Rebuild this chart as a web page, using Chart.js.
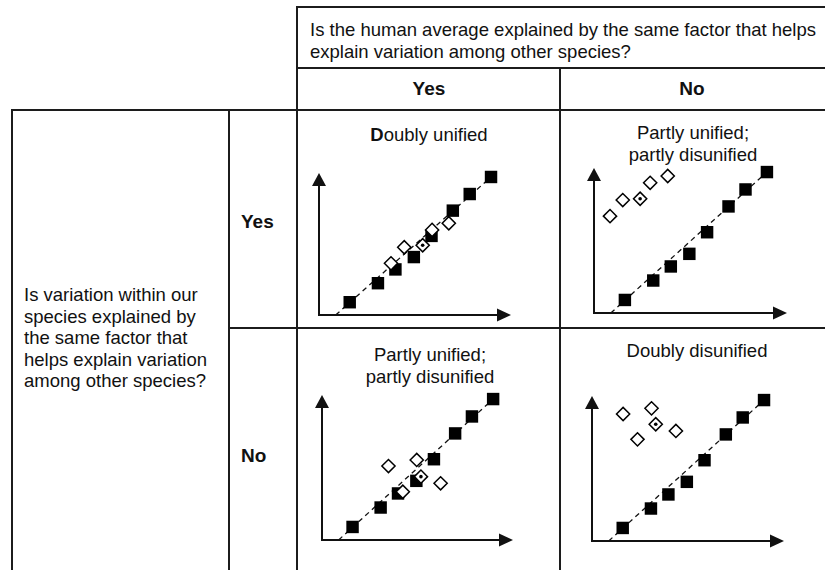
<!DOCTYPE html>
<html>
<head>
<meta charset="utf-8">
<script src="https://cdn.jsdelivr.net/npm/chart.js@4.4.1/dist/chart.umd.min.js"></script>
<style>
  html, body { margin: 0; padding: 0; background: #fff; }
  #page { position: relative; width: 825px; height: 570px; overflow: hidden;
          font-family: "Liberation Sans", Arial, sans-serif; color: #111; }
  .rule { position: absolute; background: #1c1c1c; }
  .lbl { position: absolute; white-space: nowrap; line-height: 1; }
  canvas { position: absolute; }
</style>
</head>
<body>
<div id="page"></div>
<script>
// other species: same regression in every panel (x, y in axis units 0..10)
const otherX = [1.60, 3.07, 3.98, 4.94, 5.86, 6.97, 7.85, 8.96];
const otherY = [0.90, 2.24, 3.21, 4.08, 5.57, 7.35, 8.52, 9.72];
const trendX = [0.87, 8.96];
const trendY = [0, 9.72];

// human individuals (open diamonds) per panel, and the human average (dotted one)
const human1X = [3.75, 4.44, 5.40, 5.89, 6.76];
const human1Y = [3.64, 4.77, 4.91, 5.99, 6.46];
const avg1 = [5.40, 4.91];

const human2X = [0.83, 1.49, 2.39, 2.91, 3.82];
const human2Y = [6.68, 7.79, 7.88, 8.98, 9.45];
const avg2 = [2.39, 7.88];

const human3X = [3.48, 4.23, 4.96, 5.18, 6.21];
const human3Y = [5.10, 3.33, 5.52, 4.37, 3.91];
const avg3 = [5.18, 4.37];

const human4X = [1.62, 3.10, 2.37, 3.32, 4.37];
const human4Y = [8.76, 9.15, 7.01, 8.05, 7.59];
const avg4 = [3.32, 8.05];

const page = document.getElementById('page');

// table rules
function rule(x1, y1, x2, y2) {
  const d = document.createElement('div');
  d.className = 'rule';
  if (y1 === y2) {
    d.style.left = x1 + 'px'; d.style.top = (y1 - 1) + 'px';
    d.style.width = (x2 - x1) + 'px'; d.style.height = '2px';
  } else {
    d.style.left = (x1 - 1) + 'px'; d.style.top = y1 + 'px';
    d.style.width = '2px'; d.style.height = (y2 - y1) + 'px';
  }
  page.appendChild(d);
}
rule(296, 7, 825, 7);
rule(296, 68, 825, 68);
rule(11, 110, 825, 110);
rule(229, 328, 825, 328);
rule(12, 110, 12, 570);
rule(229, 110, 229, 570);
rule(297, 6, 297, 570);
rule(560, 68, 560, 570);

// text placed by baseline
function label(html, x, baseline, size, align, bold) {
  const d = document.createElement('div');
  d.className = 'lbl';
  d.innerHTML = html;
  d.style.fontSize = size + 'px';
  d.style.fontWeight = bold ? 'bold' : 'normal';
  d.style.top = (baseline - 0.8465 * size) + 'px';
  if (align === 'center') {
    d.style.left = (x - 200) + 'px'; d.style.width = '400px'; d.style.textAlign = 'center';
  } else {
    d.style.left = x + 'px';
  }
  page.appendChild(d);
}
label('Is the human average explained by the same factor that helps', 310, 36.5, 18.5);
label('explain variation among other species?', 310, 58.5, 18.5);
label('Yes', 429, 95, 19, 'center', true);
label('No', 692, 95, 19, 'center', true);
label('Yes', 241, 228, 19, 'left', true);
label('No', 241, 462, 19, 'left', true);
['Is variation within our', 'species explained by', 'the same factor that',
 'helps explain variation', 'among other species?'].forEach((t, i) => {
  label(t, 24, 302 + i * 21.4, 18.5);
});
label('<b>D</b>oubly unified', 429, 142, 18.5, 'center');
label('Partly unified;', 693, 140, 18.5, 'center');
label('partly disunified', 693, 161.5, 18.5, 'center');
label('Partly unified;', 430, 362, 18.5, 'center');
label('partly disunified', 430, 383.5, 18.5, 'center');
label('Doubly disunified', 697, 358, 18.5, 'center');

// axes with arrowheads, drawn from the scales
const axisArrows = {
  id: 'axisArrows',
  beforeDatasetsDraw(chart) {
    const { ctx, scales: { x, y } } = chart;
    const x0 = x.getPixelForValue(0), x1 = x.getPixelForValue(10);
    const y0 = y.getPixelForValue(0), y1 = y.getPixelForValue(10);
    ctx.save();
    ctx.strokeStyle = '#111';
    ctx.fillStyle = '#111';
    ctx.lineWidth = 2;
    ctx.beginPath();
    ctx.moveTo(x0, y1 + 10);
    ctx.lineTo(x0, y0);
    ctx.lineTo(x1 - 10, y0);
    ctx.stroke();
    ctx.beginPath();
    ctx.moveTo(x0, y1);
    ctx.lineTo(x0 - 7, y1 + 13);
    ctx.lineTo(x0 + 7, y1 + 13);
    ctx.closePath();
    ctx.fill();
    ctx.beginPath();
    ctx.moveTo(x1, y0);
    ctx.lineTo(x1 - 14, y0 - 6.5);
    ctx.lineTo(x1 - 14, y0 + 6.5);
    ctx.closePath();
    ctx.fill();
    ctx.restore();
  }
};

const pad = { left: 22, right: 22, top: 12, bottom: 12 };

function panel(origin, tip, hx, hy, avg) {
  const c = document.createElement('canvas');
  const w = tip[0] - origin[0] + pad.left + pad.right;
  const h = origin[1] - tip[1] + pad.top + pad.bottom;
  c.width = w; c.height = h;
  c.style.left = (origin[0] - pad.left) + 'px';
  c.style.top = (tip[1] - pad.top) + 'px';
  c.style.width = w + 'px'; c.style.height = h + 'px';
  page.appendChild(c);

  new Chart(c.getContext('2d'), {
    type: 'scatter',
    data: {
      datasets: [
        {
          data: [{ x: avg[0], y: avg[1] }],
          pointStyle: 'circle', pointRadius: 1.8,
          pointBackgroundColor: '#000', pointBorderWidth: 0, clip: false
        },
        {
          data: hx.map((v, i) => ({ x: v, y: hy[i] })),
          pointStyle: 'rectRot', pointRadius: 6.6,
          pointBackgroundColor: '#fff', pointBorderColor: '#000', pointBorderWidth: 1.5, clip: false
        },
        {
          data: otherX.map((v, i) => ({ x: v, y: otherY[i] })),
          pointStyle: 'rect', pointRadius: 8.8,
          pointBackgroundColor: '#000', pointBorderWidth: 0, clip: false
        },
        {
          data: trendX.map((v, i) => ({ x: v, y: trendY[i] })),
          showLine: true, borderColor: '#111', borderWidth: 1.3, borderDash: [5, 4],
          pointRadius: 0, clip: false
        }
      ]
    },
    options: {
      responsive: false,
      animation: false,
      layout: { padding: pad },
      plugins: { legend: { display: false }, tooltip: { enabled: false } },
      scales: {
        x: { type: 'linear', min: 0, max: 10, display: false },
        y: { type: 'linear', min: 0, max: 10, display: false }
      }
    },
    plugins: [axisArrows]
  });
}

panel([319, 315], [511, 173], human1X, human1Y, avg1);
panel([594, 313], [787, 168], human2X, human2Y, avg2);
panel([322, 540], [513, 395], human3X, human3Y, avg3);
panel([592, 541], [784, 396], human4X, human4Y, avg4);
</script>
</body>
</html>
